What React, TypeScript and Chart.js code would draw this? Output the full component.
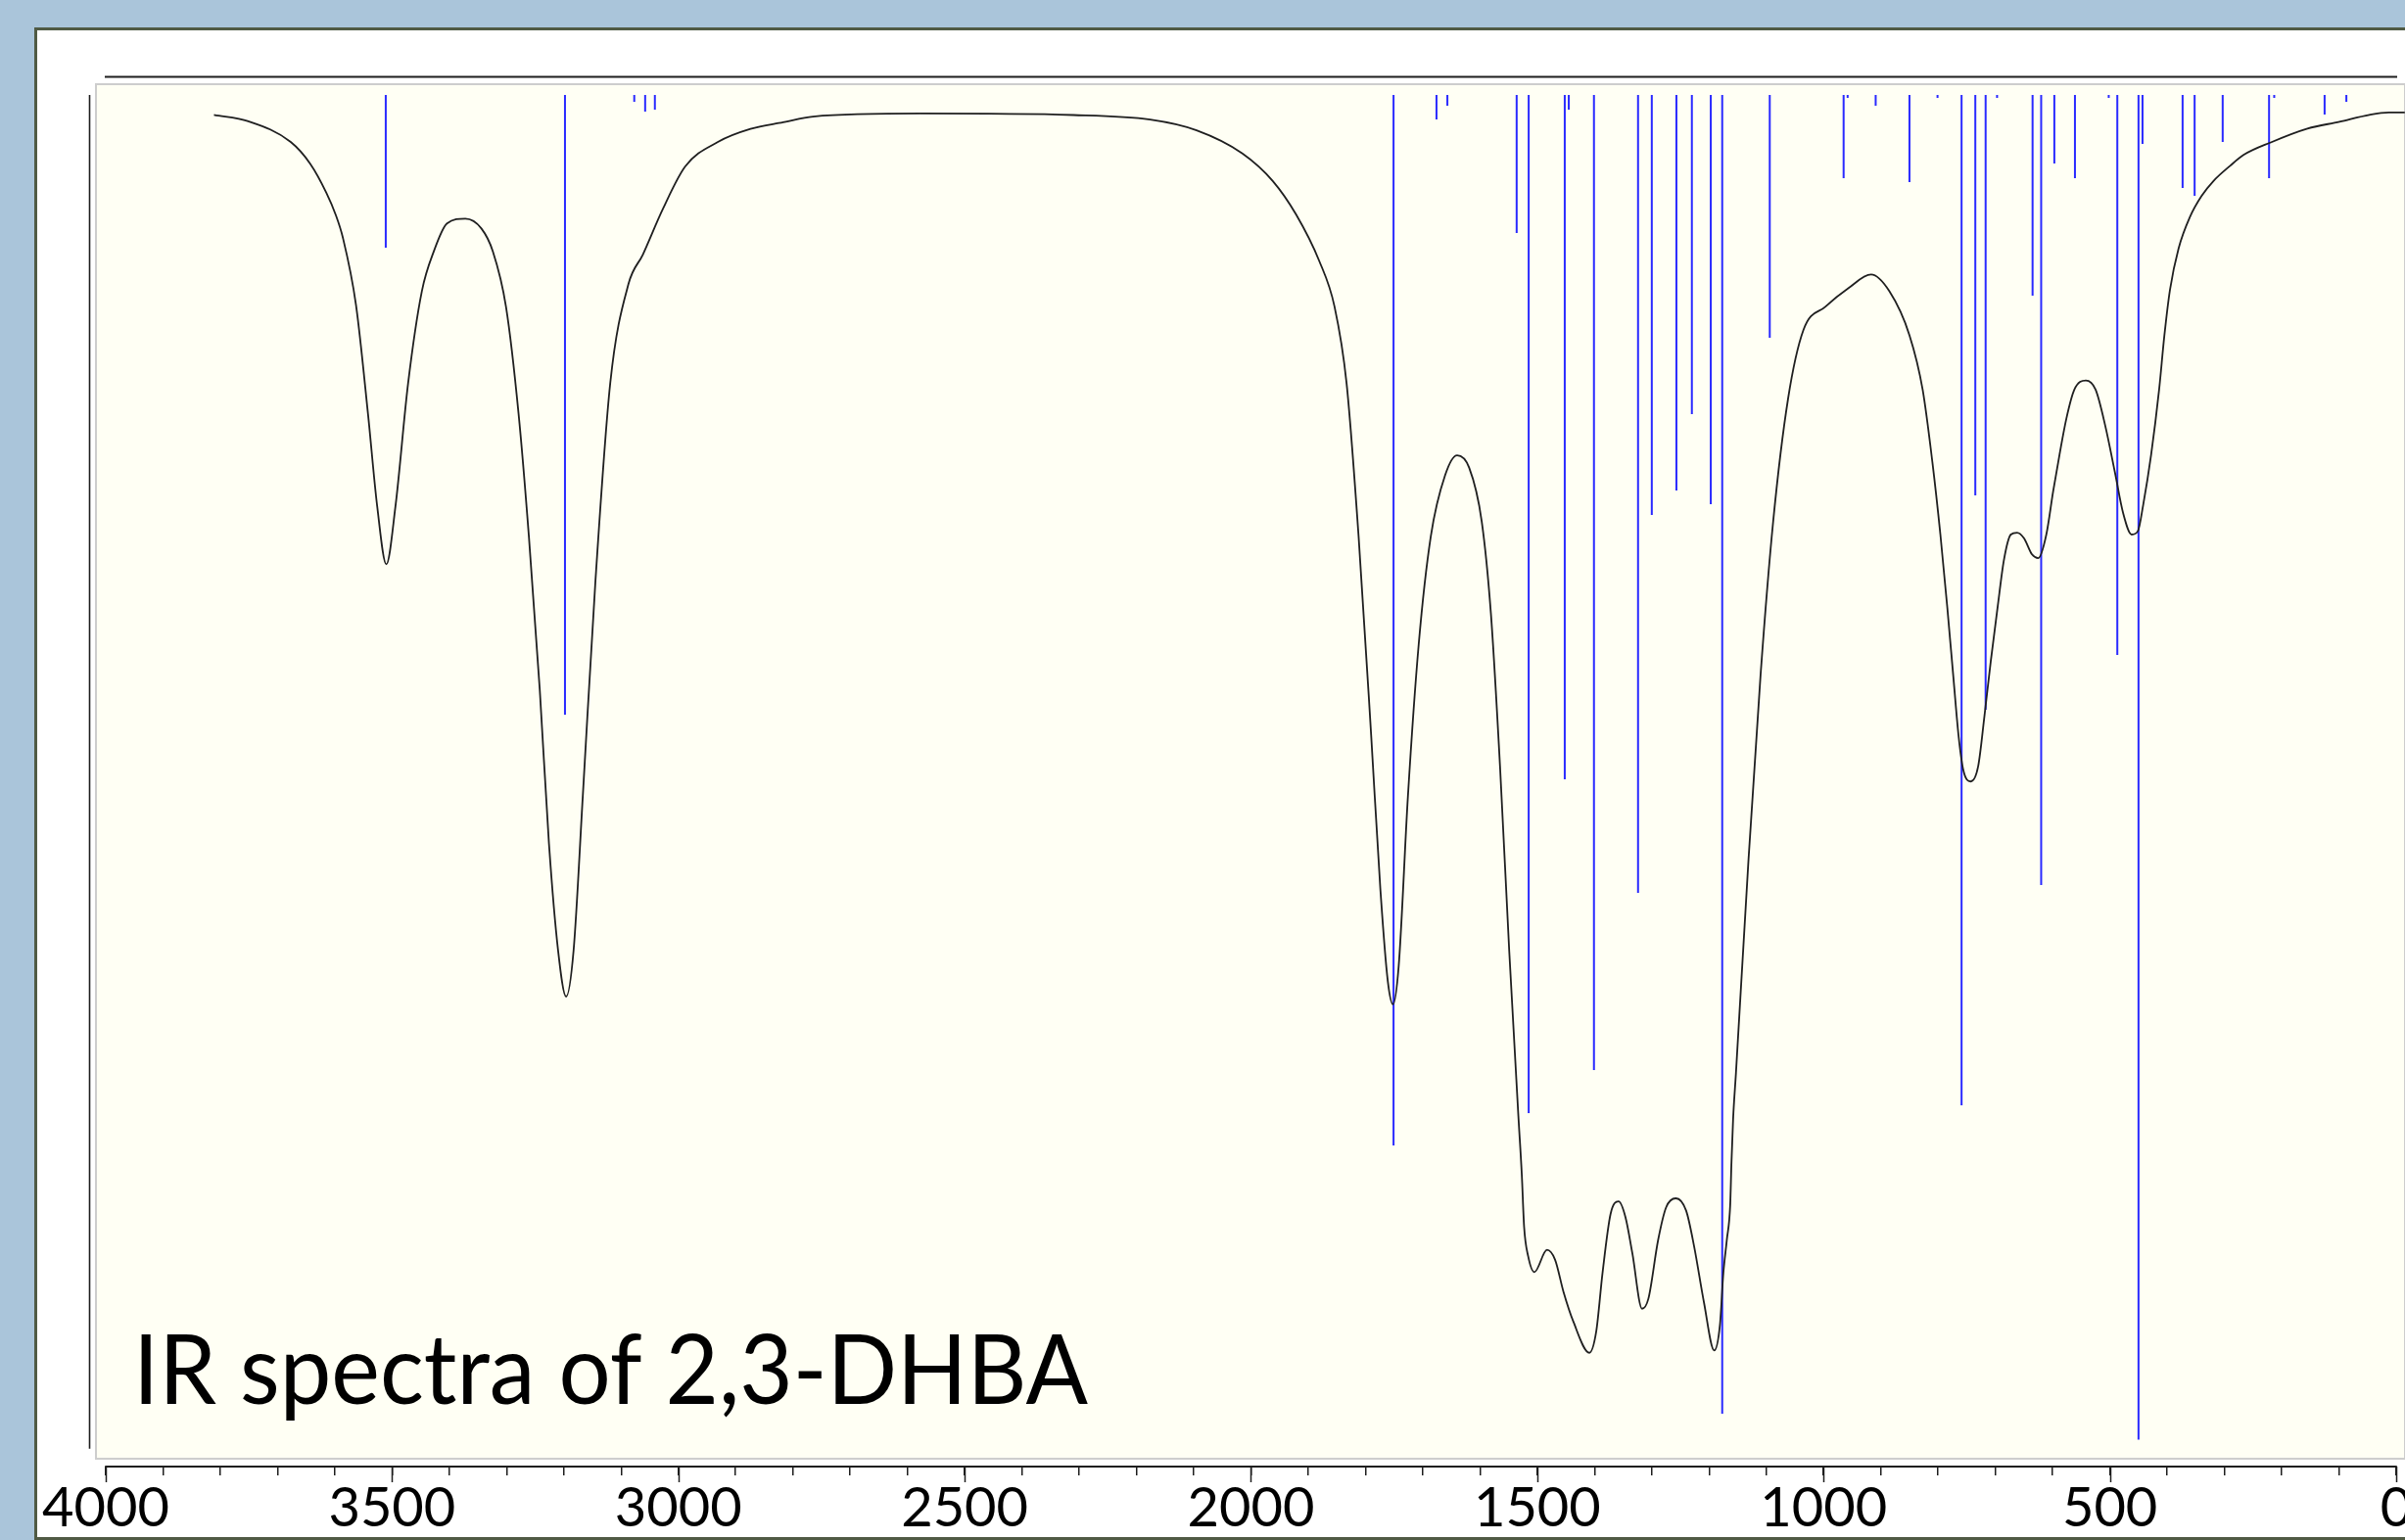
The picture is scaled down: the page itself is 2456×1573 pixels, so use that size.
import React, { useEffect, useRef } from 'react';
import { Chart, registerables } from 'chart.js';

Chart.register(...registerables);

// ---- Spectrum (black curve): wavenumber (cm-1) and transmittance-like value ----
const spectrumWavenumber = [
  3811, 3751, 3677, 3643, 3615, 3598, 3586, 3563, 3542, 3526, 3510, 3494, 3472, 3448,
  3427, 3404, 3372, 3344, 3324, 3301, 3279, 3261, 3242, 3226, 3210, 3196, 3183, 3167,
  3145, 3119, 3087, 3062, 3027, 2988, 2931, 2874, 2817, 2765, 2578, 2310, 2176, 2095,
  2015, 1962, 1921, 1881, 1854, 1833, 1812, 1790, 1774, 1761, 1752, 1742, 1726, 1707,
  1686, 1661, 1640, 1619, 1597, 1581, 1565, 1549, 1533, 1527, 1523, 1516, 1505, 1483,
  1469, 1454, 1437, 1409, 1397, 1386, 1372, 1358, 1346, 1334, 1317, 1306, 1289, 1275,
  1258, 1240, 1226, 1209, 1191, 1181, 1175, 1169, 1163, 1161, 1158, 1153, 1131, 1110,
  1088, 1062, 1035, 997, 957, 917, 885, 850, 827, 810, 796, 784, 773, 764, 756, 743,
  730, 719, 708, 696, 685, 673, 662, 650, 636, 625, 611, 599, 588, 576, 562, 542, 525,
  508, 491, 477, 462, 451, 442, 428, 414, 405, 395, 380, 360, 340, 319, 290, 266, 219, 155, 99,
  47, 13, -15,
];
const spectrumValue = [
  97.7, 97.23, 95.73, 94.15, 92.06, 90.4, 88.8, 83.9, 75.97, 69.28, 65.05, 69.28, 78.19, 84.88,
  87.79, 89.81, 90.16, 89.45, 87.79, 83.76, 75.97, 67.06, 55.92, 44.77, 36.98, 33.64, 36.98, 48.12,
  63.71, 78.19, 85.43, 87.55, 90.87, 93.95, 95.73, 96.68, 97.16, 97.58, 97.8, 97.69, 97.36, 96.58,
  94.9, 92.9, 90.45, 87.11, 83.76, 78.19, 67.06, 52.57, 41.43, 34.75, 33.08, 35.86, 48.12, 59.26,
  67.06, 71.51, 72.96, 72.07, 68.17, 61.49, 50.34, 36.98, 24.96, 20.7, 16.93, 14.8, 13.63, 15.24,
  14.53, 12.16, 10.03, 7.77, 9.32, 13.58, 17.85, 18.76, 17.62, 15.01, 10.97, 11.69, 15.95, 18.33,
  18.99, 18.09, 15.48, 11.45, 7.94, 9.79, 13.58, 15.95, 18.56, 21.41, 24.73, 28.1, 43.66, 57.03,
  68.17, 77.08, 82.09, 83.76, 85.1, 86.1, 84.88, 81.69, 77.74, 72.48, 67.21, 61.95, 56.69, 52.49, 50.11, 49.27,
  50.38, 54.05, 58.01, 61.95, 65.37, 67.21, 67.35, 66.95, 65.77, 65.5, 67.21, 70.37, 73.0, 75.63, 77.74, 78.4, 77.74,
  75.1, 71.69, 68.79, 67.21, 67.47, 69.32, 73.0, 77.74, 81.6, 85.0, 88.0, 90.3, 91.8, 92.9, 94.0, 94.8, 95.7, 96.7, 97.2,
  97.7, 97.87, 97.87,
];

// ---- Calculated bands (blue sticks): position and lower end; all start at stickTop ----
const stickWavenumber = [
  3511, 3198, 3077, 3058, 3041, 1751, 1676, 1657, 1536, 1515, 1452, 1445, 1401, 1324, 1300,
  1257, 1230, 1197, 1177, 1094, 965, 958, 909, 850, 801, 759, 735, 717, 697, 635, 620, 597,
  561, 502, 487, 450, 443, 373, 352, 303, 222, 213, 125, 87,
];
const stickEnd = [
  88.05, 54.13, 98.65, 97.94, 98.08, 22.83, 97.37, 98.36, 89.12, 25.18, 49.43, 98.08, 28.31, 41.18, 68.63,
  70.41, 75.96, 69.42, 3.34, 81.51, 93.1, 98.93, 98.36, 92.82, 98.93, 25.75, 70.06, 54.48, 98.93, 84.57, 41.75, 94.17,
  93.1, 98.93, 58.46, 1.45, 95.59, 92.39, 91.82, 95.73, 93.1, 98.93, 97.72, 98.65,
];
const stickTop = 99.15;

// ---- Axis ticks ----
const xTickValues = [
  0, 100, 200, 300, 400, 500, 600, 700, 800, 900, 1000, 1100, 1200, 1300, 1400, 1500, 1600, 1700,
  1800, 1900, 2000, 2100, 2200, 2300, 2400, 2500, 2600, 2700, 2800, 2900, 3000, 3100, 3200, 3300,
  3400, 3500, 3600, 3700, 3800, 3900, 4000,
];
const xMajorTicks = [0, 500, 1000, 1500, 2000, 2500, 3000, 3500, 4000];
const xMajorLabels = ['0', '500', '1000', '1500', '2000', '2500', '3000', '3500', '4000'];
const titleText = 'IR spectra of 2,3-DHBA';

const decorPlugin = {
  id: 'decor',
  beforeDatasetsDraw(chart: any) {
    const { ctx, chartArea, scales } = chart;
    const x = scales.x;
    const y = scales.y;
    const bottom = y.getPixelForValue(0);
    ctx.save();
    ctx.fillStyle = '#fffff4';
    ctx.fillRect(chartArea.left, chartArea.top, chartArea.right - chartArea.left, bottom - chartArea.top);
    ctx.strokeStyle = '#cdcdcd';
    ctx.lineWidth = 2;
    ctx.strokeRect(chartArea.left + 1, chartArea.top + 1, chartArea.right - chartArea.left - 1, bottom - chartArea.top - 2);
    // black rule above the plot
    ctx.strokeStyle = '#1e1e1e';
    ctx.lineWidth = 2.2;
    ctx.beginPath();
    ctx.moveTo(x.getPixelForValue(4000) - 1, chartArea.top - 6.5);
    ctx.lineTo(x.getPixelForValue(0) + 1, chartArea.top - 6.5);
    ctx.stroke();
    // black rule left of the plot
    ctx.lineWidth = 1.6;
    ctx.beginPath();
    ctx.moveTo(chartArea.left - 5.5, y.getPixelForValue(stickTop));
    ctx.lineTo(chartArea.left - 5.5, y.getPixelForValue(0.8));
    ctx.stroke();
    ctx.restore();
  },
  afterDraw(chart: any) {
    const { ctx, chartArea, scales } = chart;
    const x = scales.x;
    const y = scales.y;
    const axisY = x.top;
    ctx.save();
    ctx.strokeStyle = '#1e1e1e';
    ctx.lineWidth = 2;
    ctx.beginPath();
    ctx.moveTo(x.getPixelForValue(4000) - 0.75, axisY);
    ctx.lineTo(x.getPixelForValue(0) + 0.75, axisY);
    ctx.stroke();
    ctx.lineWidth = 1.5;
    xMajorTicks.forEach((v) => {
      const px = Math.round(x.getPixelForValue(v)) + 0.5;
      ctx.beginPath();
      ctx.moveTo(px, axisY);
      ctx.lineTo(px, axisY + 16);
      ctx.stroke();
    });
    // title inside the plot
    ctx.font = '98px Lato';
    ctx.fillStyle = '#000';
    ctx.textBaseline = 'alphabetic';
    ctx.textAlign = 'left';
    const w = ctx.measureText(titleText).width;
    const target = 975;
    const tx = chartArea.left + 39;
    const ty = y.getPixelForValue(0) - 57;
    ctx.translate(tx, ty);
    ctx.scale(target / w, 1);
    ctx.fillText(titleText, 0, 0);
    ctx.restore();
  },
};

export default function App() {
  const ref = useRef<HTMLCanvasElement>(null);

  useEffect(() => {
    let chart: Chart | null = null;
    let cancelled = false;
    const build = () => {
      if (cancelled || !ref.current) return;
      const curveData = spectrumWavenumber.map((w, i) => ({ x: w, y: spectrumValue[i] }));
      const stickData: any[] = [];
      stickWavenumber.forEach((w, i) => {
        stickData.push({ x: w, y: stickTop });
        stickData.push({ x: w, y: stickEnd[i] });
        stickData.push({ x: w, y: null });
      });
      chart = new Chart(ref.current, {
        type: 'line',
        data: {
          datasets: [
            {
              data: curveData,
              borderColor: '#1f1f1f',
              borderWidth: 1.8,
              pointRadius: 0,
              tension: 0.4,
              cubicInterpolationMode: 'monotone',
              fill: false,
            } as any,
            {
              data: stickData,
              borderColor: '#2a2aff',
              borderWidth: 2,
              pointRadius: 0,
              tension: 0,
              spanGaps: false,
              fill: false,
            } as any,
          ],
        },
        options: {
          animation: false,
          responsive: false,
          events: [],
          layout: { padding: { left: 97, top: 85, right: 0, bottom: 0 } },
          plugins: {
            legend: { display: false },
            tooltip: { enabled: false },
            title: { display: false },
          },
          scales: {
            x: {
              type: 'linear',
              reverse: true,
              min: -15.4,
              max: 4018.8,
              position: 'bottom',
              afterBuildTicks: (s: any) => {
                s.ticks = xTickValues.map((v) => ({ value: v }));
              },
              afterFit: (s: any) => {
                s.height = 75;
              },
              border: { display: false },
              grid: {
                display: true,
                drawOnChartArea: false,
                drawTicks: true,
                tickLength: 9,
                color: '#1e1e1e',
                lineWidth: 1.5,
              },
              ticks: {
                autoSkip: false,
                maxRotation: 0,
                minRotation: 0,
                padding: 0,
                color: '#000',
                font: { family: 'Lato', size: 56 },
                callback: (v: any) => {
                  const idx = xMajorTicks.indexOf(Number(v));
                  return idx >= 0 ? xMajorLabels[idx] : '';
                },
              },
            } as any,
            y: { type: 'linear', display: false, min: -0.5, max: 100 },
          },
        },
        plugins: [decorPlugin],
      });
    };
    const fonts: any = (document as any).fonts;
    if (fonts && fonts.load) {
      Promise.all([fonts.load('56px Lato'), fonts.load('98px Lato')]).then(build, build);
    } else {
      build();
    }
    return () => {
      cancelled = true;
      if (chart) chart.destroy();
    };
  }, []);

  return (
    <div style={{ position: 'fixed', left: 0, top: 0, width: 2456, height: 1573, overflow: 'hidden', background: '#aac5da' }}>
      <div
        style={{
          position: 'absolute',
          left: 35,
          top: 28,
          width: 2500,
          height: 1545,
          boxSizing: 'border-box',
          border: '3px solid #505a44',
          background: '#ffffff',
        }}
      />
      <canvas ref={ref} width={2456} height={1573} style={{ position: 'absolute', left: 0, top: 0, width: 2456, height: 1573 }} />
    </div>
  );
}
